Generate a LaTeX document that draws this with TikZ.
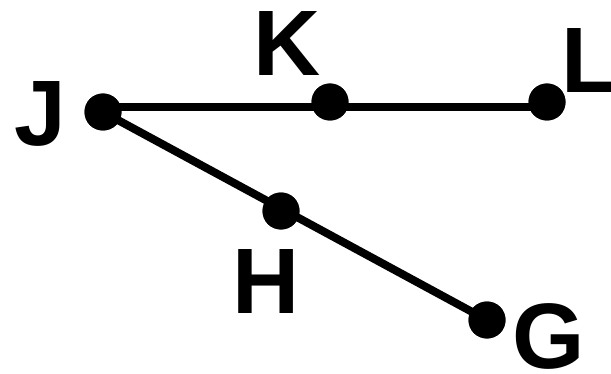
\documentclass[tikz,border=0pt]{standalone}
\usepackage{fontspec}
\setmainfont{Liberation Sans}
\begin{document}
\begin{tikzpicture}[x=1pt,y=1pt,
  pt/.style={circle,fill=black,inner sep=0pt,minimum size=37pt},
  lbl/.style={inner sep=0pt,anchor=base,font=\fontsize{93}{93}\selectfont\bfseries},
  seg/.style={line width=8pt}]
\useasboundingbox (0,0) rectangle (611,373);
% points
\node[pt] (J) at (103,261) {};
\node[pt] (K) at (330,271) {};
\node[pt] (L) at (547,271) {};
\node[pt] (H) at (281,162) {};
\node[pt] (G) at (487,53) {};
\coordinate (jl) at (103,266);
\coordinate (ll) at (547,266);
% segments
\draw[seg] (jl) -- (ll);
\draw[seg] (J.center) -- (G.center);
% redraw dots on top
\foreach \p in {J,K,L,H,G} \fill (\p) circle (18.5pt);
% labels
\node[lbl] (lJ) at (40,228) {J};
\node[lbl] (lK) at (287,297) {K};
\node[lbl] (lL) at (590,280) {L};
\node[lbl] (lH) at (266,60) {H};
\node[lbl] (lG) at (549,5) {G};
\end{tikzpicture}
\end{document}
